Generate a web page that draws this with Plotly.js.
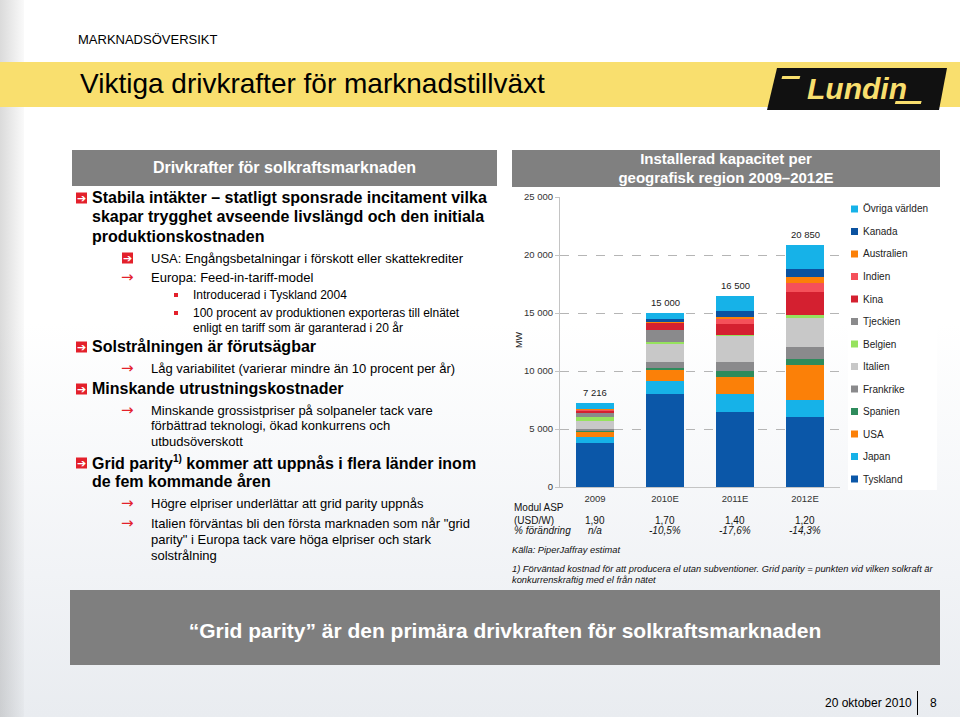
<!DOCTYPE html>
<html>
<head>
<meta charset="utf-8">
<script src="https://cdn.plot.ly/plotly-3.0.1.min.js"></script>
<style>
  html,body{margin:0;padding:0;}
  body{width:960px;height:717px;position:relative;overflow:hidden;
    font-family:"Liberation Sans",Arial,Helvetica,sans-serif;color:#000;
    background:linear-gradient(to bottom,#ffffff 0%,#ffffff 45%,#f1f3f6 80%,#e9ecf0 100%);}
  .abs{position:absolute;white-space:nowrap;}
  .t{position:absolute;white-space:nowrap;line-height:1;transform:translateY(-50%);}
  .b{font-weight:bold;font-size:16px;}
  .s{font-size:13px;}
  .ss{font-size:12px;}
  .box{position:absolute;width:11px;height:11px;background:#e3202b;color:#fff;font-size:11px;line-height:11px;text-align:center;font-weight:bold;transform:translateY(-50%);font-family:"DejaVu Sans",sans-serif;overflow:hidden;}
  .arr{position:absolute;color:#e3202b;font-size:15px;line-height:1;transform:translateY(-50%);font-family:"DejaVu Sans",sans-serif;}
  .sq{position:absolute;width:4px;height:4px;background:#e3202b;transform:translateY(-50%);}
  .it{font-style:italic;font-size:9.3px;color:#111;}
  #err{position:absolute;left:0;top:0;font-size:10px;color:red;}
</style>
</head>
<body>
<div id="err"></div>
<div class="abs" style="left:0;top:0;width:24px;height:717px;background:linear-gradient(to right,rgba(150,150,150,0.35),rgba(150,150,150,0.05));"></div>

<div class="t" style="left:78px;top:39px;font-size:13px;">MARKNADSÖVERSIKT</div>
<div class="abs" style="left:0;top:62px;width:960px;height:45px;background:#f9df6e;"></div>
<div class="t" style="left:80px;top:84px;font-size:28px;font-family:'Liberation Sans Narrow','Arial Narrow','Liberation Sans',sans-serif;">Viktiga drivkrafter för marknadstillväxt</div>
<svg class="abs" style="left:765px;top:66px;" width="185" height="46">
  <polygon points="12,2 182,2 174,44 2,44" fill="#111"/>
  <text x="92" y="33" text-anchor="middle" font-family="Liberation Sans,Arial" font-weight="bold" font-style="italic" font-size="30" fill="#f9df6e">Lundin</text>
  <rect x="20" y="10" width="18" height="3" fill="#f9df6e" transform="skewX(-15)"/>
  <rect x="140" y="35" width="26" height="3" fill="#f9df6e" transform="skewX(-15)"/>
</svg>

<div class="abs" style="left:72px;top:150px;width:425px;height:36px;background:#808080;"></div>
<div class="t b" style="left:72px;width:425px;text-align:center;top:168px;color:#fff;">Drivkrafter för solkraftsmarknaden</div>

<div class="box" style="left:76px;top:198px;">➔</div>
<div class="t b" style="left:92px;top:198px;">Stabila intäkter – statligt sponsrade incitament vilka</div>
<div class="t b" style="left:92px;top:217px;">skapar trygghet avseende livslängd och den initiala</div>
<div class="t b" style="left:92px;top:237px;">produktionskostnaden</div>
<div class="box" style="left:122px;top:258px;">➔</div>
<div class="t s" style="left:151px;top:258px;">USA: Engångsbetalningar i förskott eller skattekrediter</div>
<div class="arr" style="left:121px;top:277px;">→</div>
<div class="t s" style="left:151px;top:277px;">Europa: Feed-in-tariff-model</div>
<div class="sq" style="left:174px;top:295px;"></div>
<div class="t ss" style="left:193px;top:295px;">Introducerad i Tyskland 2004</div>
<div class="sq" style="left:174px;top:313px;"></div>
<div class="t ss" style="left:193px;top:313px;">100 procent av produktionen exporteras till elnätet</div>
<div class="t ss" style="left:193px;top:328px;">enligt en tariff som är garanterad i 20 år</div>

<div class="box" style="left:76px;top:347px;">➔</div>
<div class="t b" style="left:92px;top:347px;">Solstrålningen är förutsägbar</div>
<div class="arr" style="left:121px;top:368px;">→</div>
<div class="t s" style="left:151px;top:368px;">Låg variabilitet (varierar mindre än 10 procent per år)</div>

<div class="box" style="left:76px;top:389px;">➔</div>
<div class="t b" style="left:92px;top:389px;">Minskande utrustningskostnader</div>
<div class="arr" style="left:121px;top:410px;">→</div>
<div class="t s" style="left:151px;top:410px;">Minskande grossistpriser på solpaneler tack vare</div>
<div class="t s" style="left:151px;top:425px;">förbättrad teknologi, ökad konkurrens och</div>
<div class="t s" style="left:151px;top:441px;">utbudsöverskott</div>

<div class="box" style="left:76px;top:463px;">➔</div>
<div class="t b" style="left:92px;top:463px;">Grid parity<sup style="font-size:10px;">1)</sup> kommer att uppnås i flera länder inom</div>
<div class="t b" style="left:92px;top:482px;">de fem kommande åren</div>
<div class="arr" style="left:121px;top:503px;">→</div>
<div class="t s" style="left:151px;top:503px;">Högre elpriser underlättar att grid parity uppnås</div>
<div class="arr" style="left:121px;top:523px;">→</div>
<div class="t s" style="left:151px;top:523px;">Italien förväntas bli den första marknaden som når "grid</div>
<div class="t s" style="left:151px;top:539px;">parity" i Europa tack vare höga elpriser och stark</div>
<div class="t s" style="left:151px;top:555px;">solstrålning</div>

<div class="abs" style="left:512px;top:150px;width:428px;height:37px;background:#808080;"></div>
<div class="t" style="left:512px;width:428px;text-align:center;top:158px;color:#fff;font-weight:bold;font-size:15px;">Installerad kapacitet per</div>
<div class="t" style="left:512px;width:428px;text-align:center;top:177px;color:#fff;font-weight:bold;font-size:15px;">geografisk region 2009–2012E</div>

<div id="chart" class="abs" style="left:500px;top:188px;width:450px;height:410px;"></div>

<div class="t it" style="left:512px;top:551px;">Källa: PiperJaffray estimat</div>
<div class="t it" style="left:512px;top:570px;">1) Förväntad kostnad för att producera el utan subventioner. Grid parity = punkten vid vilken solkraft är</div>
<div class="t it" style="left:512px;top:581px;">konkurrenskraftig med el från nätet</div>

<div class="abs" style="left:70px;top:590px;width:870px;height:75px;background:#7f7f7f;"></div>
<div class="t" style="left:70px;width:870px;text-align:center;top:630px;color:#fff;font-weight:bold;font-size:21px;">“Grid parity” är den primära drivkraften för solkraftsmarknaden</div>

<div class="t" style="left:825px;top:703px;font-size:12px;">20 oktober 2010</div>
<div class="abs" style="left:917px;top:691px;width:1px;height:24px;background:#000;"></div>
<div class="t" style="left:930px;top:703px;font-size:12px;">8</div>

<script>
window.onerror = function(m){ document.getElementById('err').textContent = m; };
// ---- data ----
const years = ['2009', '2010E', '2011E', '2012E'];
const tyskland   = [3800, 8000, 6500, 6000];
const japan      = [480, 1100, 1500, 1500];
const usa        = [470, 1000, 1500, 3000];
const spanien    = [60, 150, 500, 550];
const frankrike  = [185, 500, 750, 1000];
const italien    = [720, 1550, 2250, 2500];
const belgien    = [290, 200, 100, 250];
const tjeckien   = [410, 1000, 0, 0];
const kina       = [160, 600, 950, 2000];
const indien     = [30, 50, 400, 800];
const australien = [80, 100, 200, 500];
const kanada     = [70, 250, 500, 700];
const ovriga     = [461, 500, 1350, 2050];
const aspValues  = ['1,90', '1,70', '1,40', '1,20'];
const aspChange  = ['n/a', '-10,5%', '-17,6%', '-14,3%'];

const seriesNames = ['Tyskland','Japan','USA','Spanien','Frankrike','Italien','Belgien','Tjeckien','Kina','Indien','Australien','Kanada','Övriga världen'];
const seriesData  = [tyskland,japan,usa,spanien,frankrike,italien,belgien,tjeckien,kina,indien,australien,kanada,ovriga];
const seriesColors = ['#0b57a8','#16b2e8','#fb8008','#2e8b5c','#8a8a8c','#c8c8c8','#96e25e','#8a8a8c','#d42030','#f5505a','#fb8008','#0b52a0','#16b2e8'];

const fmt = n => String(Math.round(n)).replace(/\B(?=(\d{3})+(?!\d))/g, ' ');
const xpos = years.map((_, j) => j);

const traces = seriesData.map((d, i) => ({
  type: 'bar', x: xpos, y: d, name: seriesNames[i], width: 0.543,
  marker: {color: seriesColors[i]},
  showlegend: false
}));

const totals = years.map((_, j) => seriesData.reduce((s, d) => s + d[j], 0));

const FONT = 'Liberation Sans, Arial, sans-serif';
const annotations = [];
years.forEach((yr, j) => {
  annotations.push({x: j, y: totals[j], xref: 'x', yref: 'y', text: fmt(totals[j]), showarrow: false,
    yanchor: 'bottom', yshift: 3, font: {size: 9.5, color: '#222', family: FONT}});
  annotations.push({x: j, y: -0.1138, xref: 'x', yref: 'paper', text: aspValues[j], showarrow: false,
    yanchor: 'middle', font: {size: 10, color: '#111', family: FONT}});
  annotations.push({x: j, y: -0.1517, xref: 'x', yref: 'paper', text: '<i>' + aspChange[j] + '</i>', showarrow: false,
    yanchor: 'middle', font: {size: 10, color: '#111', family: FONT}});
});
['Modul ASP', '(USD/W)', '<i>% förändring</i>'].forEach((t, k) => {
  annotations.push({x: -0.171, y: [-0.0724, -0.1138, -0.1517][k], xref: 'paper', yref: 'paper', text: t,
    xanchor: 'left', yanchor: 'middle', showarrow: false, font: {size: 10, color: '#111', family: FONT}});
});
annotations.push({x: -0.146, y: 0.507, xref: 'paper', yref: 'paper', text: 'MW', textangle: -90,
  xanchor: 'center', yanchor: 'middle', showarrow: false, font: {size: 9, color: '#222', family: FONT}});

const shapes = [{type: 'rect', xref: 'paper', yref: 'paper', x0: 1.0286, x1: 1.346, y0: -0.0103, y1: 1.003,
  fillcolor: '#ffffff', line: {width: 0}, layer: 'below'}];
for (let k = 0; k < seriesNames.length; k++) {
  const idx = seriesNames.length - 1 - k;
  const Y = 209 + k * 22.5;
  const py = (487 - Y) / 290;
  shapes.push({type: 'rect', xref: 'paper', yref: 'paper', x0: (851 - 560) / 280, x1: (858 - 560) / 280,
    y0: py - 3.5 / 290, y1: py + 3.5 / 290, fillcolor: seriesColors[idx], line: {width: 0}});
  annotations.push({x: (861 - 560) / 280, y: py, xref: 'paper', yref: 'paper', text: seriesNames[idx],
    xanchor: 'left', yanchor: 'middle', showarrow: false, font: {size: 10, color: '#222', family: FONT}});
}

const layout = {
  width: 450, height: 410,
  margin: {l: 60, r: 110, t: 9, b: 111},
  paper_bgcolor: 'rgba(0,0,0,0)', plot_bgcolor: 'rgba(0,0,0,0)',
  barmode: 'stack',
  separators: ', ',
  font: {family: FONT, size: 9.5, color: '#333'},
  xaxis: {type: 'linear', range: [-0.5, 3.5], tickvals: xpos, ticktext: years, showline: true,
    linecolor: '#c4c4c4', ticks: '', tickfont: {size: 9.5, color: '#333'}, showgrid: false, zeroline: false,
    ticklabelstandoff: 3},
  yaxis: {type: 'linear', range: [0, 25000], tickvals: [0, 5000, 10000, 15000, 20000, 25000], tickformat: ',d',
    showline: true, linecolor: '#c4c4c4', ticks: 'outside', ticklen: 4, tickcolor: '#c4c4c4',
    showgrid: true, gridcolor: '#b5b5b5', griddash: 'dash', gridwidth: 1, zeroline: false,
    tickfont: {size: 9.5, color: '#333'}},
  annotations: annotations, shapes: shapes, showlegend: false
};

Plotly.newPlot('chart', traces, layout, {displayModeBar: false, staticPlot: true});
</script>
</body>
</html>
